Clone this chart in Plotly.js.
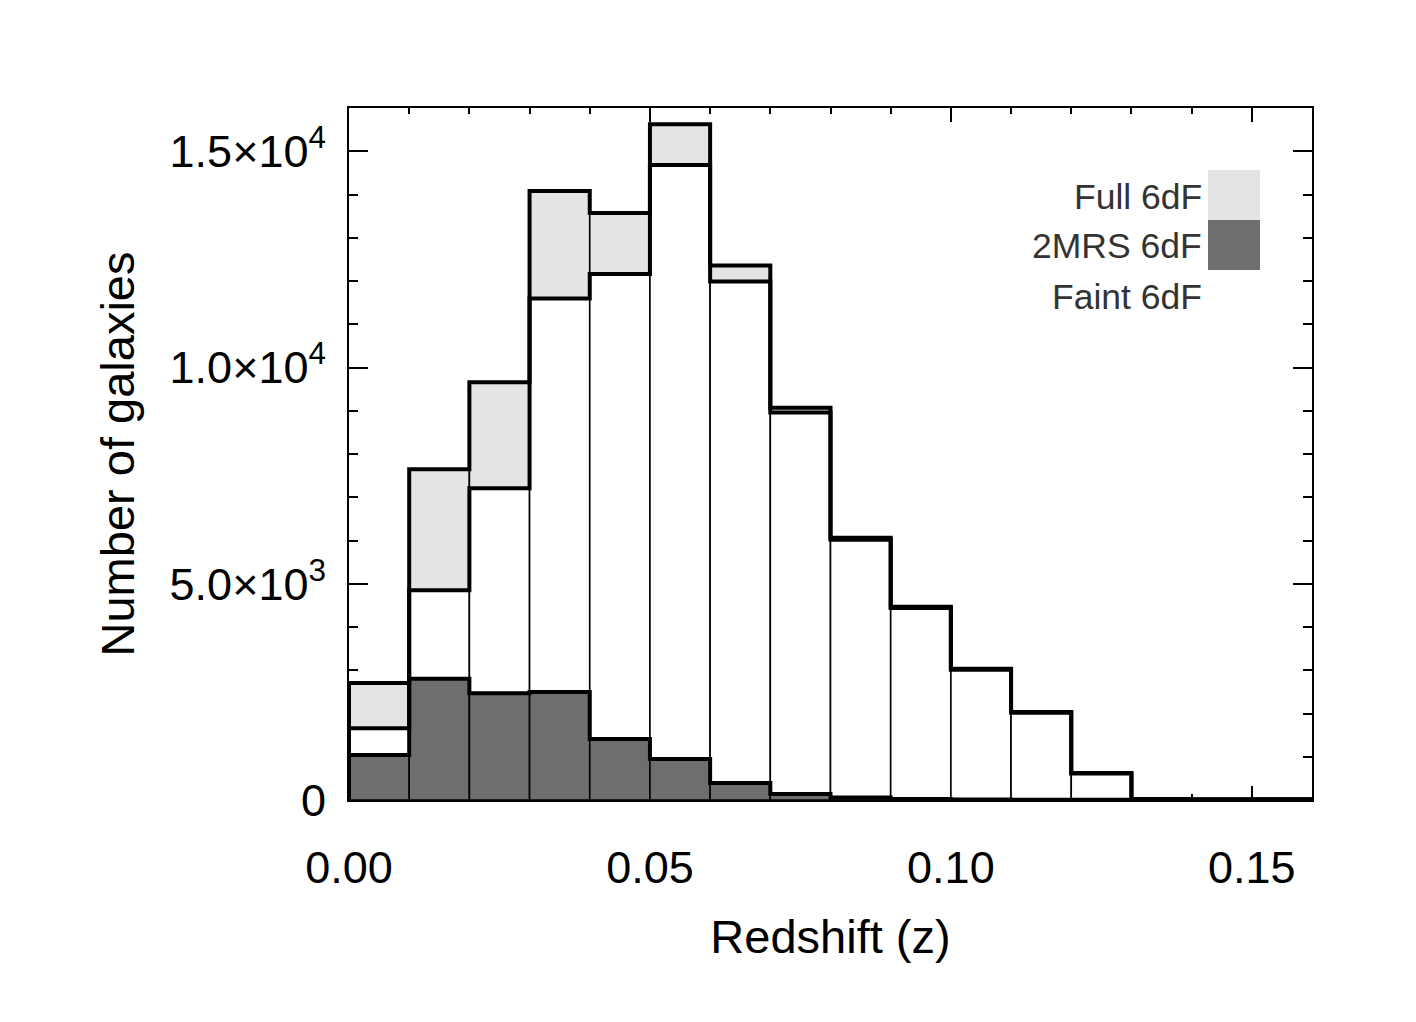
<!DOCTYPE html>
<html>
<head>
<meta charset="utf-8">
<script src="https://cdn.plot.ly/plotly-3.0.1.min.js"></script>
<style>html,body{margin:0;padding:0;background:#fff;}#chart{width:1416px;height:1022px;}</style>
</head>
<body>
<div id="chart"></div>
<script>
// Bin edges of the redshift histogram (width 0.01)
const binEdges = [0.00,0.01,0.02,0.03,0.04,0.05,0.06,0.07,0.08,0.09,0.10,0.11,0.12,0.13,0.14,0.15,0.16];
// Counts per bin
const full6dF  = [2708,7650,9660,14080,13570,15625,12360,9070,6065,4468,3032,2037,625,25,15,20];
const faint6dF = [1660,4850,7210,11597,12160,14680,11990,8960,6020,4440,3010,2020,615,22,14,18];
const mrs6dF   = [1040,2801,2470,2500,1412,949,394,139,60,25,12,6,3];

const xTickVals = [0, 0.05, 0.10, 0.15];
const xTickText = ['0.00','0.05','0.10','0.15'];
const yTickVals = [0, 5000, 10000, 15000];
const yTickText = ['0','5.0×10<sup>3</sup>','1.0×10<sup>4</sup>','1.5×10<sup>4</sup>'];

const legendLabels = ['Full 6dF','2MRS 6dF','Faint 6dF'];

const cLight = '#e4e4e4', cDark = '#6e6e6e';

function centers(vals){ return vals.map((v,i)=> (binEdges[i]+binEdges[i+1])/2); }
function barTrace(vals, color){
  return {type:'bar', x:centers(vals), y:vals, width:vals.map(()=>0.01),
    marker:{color:color, line:{color:'#000', width:1.6}}, showlegend:false, hoverinfo:'skip'};
}
function stepTrace(vals){
  const n = vals.length;
  const xs = [binEdges[0]].concat(binEdges.slice(0, n+1)).concat([binEdges[n]]);
  const ys = [0].concat(vals).concat([vals[n-1], 0]);
  return {type:'scatter', mode:'lines', x:xs, y:ys, line:{shape:'hv', color:'#000', width:4},
    showlegend:false, hoverinfo:'skip'};
}

const data = [
  barTrace(full6dF, cLight),
  barTrace(faint6dF, '#ffffff'),
  barTrace(mrs6dF, cDark),
  stepTrace(full6dF),
  stepTrace(faint6dF),
  stepTrace(mrs6dF)
];

const font = {family:'"Liberation Sans", Arial, sans-serif', color:'#000'};

const layout = {
  width:1416, height:1022,
  paper_bgcolor:'#fff', plot_bgcolor:'#fff',
  margin:{l:349, r:104, t:108, b:222},
  barmode:'overlay', bargap:0,
  font:font,
  showlegend:false,
  xaxis:{
    range:[0,0.16], tickvals:xTickVals, ticktext:xTickText,
    ticks:'inside', ticklen:14, tickwidth:2, tickcolor:'#000',
    minor:{dtick:0.01, tick0:0, ticks:'inside', ticklen:6, tickwidth:2, tickcolor:'#000'},
    showline:true, linewidth:2, linecolor:'#000', mirror:'ticks',
    showgrid:false, zeroline:false, layer:'below traces',
    tickfont:{size:45, family:font.family, color:'#000'},
    ticklabelstandoff:27,
    title:{text:'Redshift (z)', font:{size:47, family:font.family, color:'#000'}, standoff:28},
    automargin:false, fixedrange:true
  },
  yaxis:{
    range:[0,16000], tickvals:yTickVals, ticktext:yTickText,
    ticks:'inside', ticklen:19, tickwidth:2, tickcolor:'#000',
    minor:{dtick:1000, tick0:0, ticks:'inside', ticklen:9, tickwidth:2, tickcolor:'#000'},
    showline:true, linewidth:2, linecolor:'#000', mirror:'ticks',
    showgrid:false, zeroline:false, layer:'below traces',
    tickfont:{size:45, family:font.family, color:'#000'},
    ticklabelstandoff:12,
    title:{text:'Number of galaxies', font:{size:47, family:font.family, color:'#000'}, standoff:20},
    automargin:false, fixedrange:true
  },
  shapes:[
    {type:'rect', xref:'paper', yref:'paper', x0:0.892, x1:0.946, y0:0.8382, y1:0.9104, fillcolor:cLight, line:{width:0}},
    {type:'rect', xref:'paper', yref:'paper', x0:0.892, x1:0.946, y0:0.7659, y1:0.8382, fillcolor:cDark, line:{width:0}}
  ],
  annotations: legendLabels.map((t,i)=>({
    text:t, xref:'paper', yref:'paper', x:0.8875, y:[0.8714,0.8006,0.7269][i],
    xanchor:'right', yanchor:'middle', showarrow:false,
    font:{size:35.5, family:font.family, color:'#333'}
  }))
};

Plotly.newPlot('chart', data, layout, {displayModeBar:false, staticPlot:true});
</script>
</body>
</html>
